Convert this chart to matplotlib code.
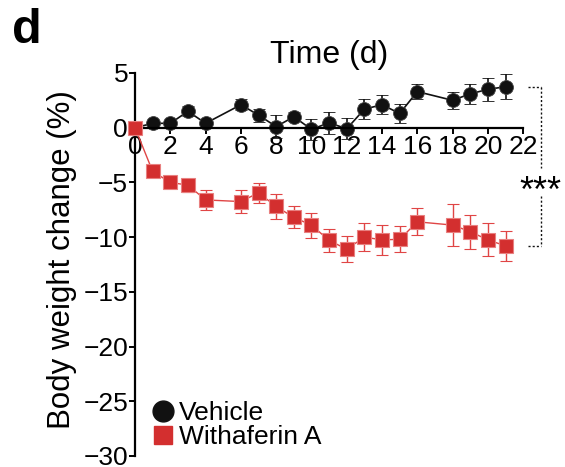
import matplotlib

matplotlib.use("Agg")
import matplotlib.pyplot as plt
from matplotlib.lines import Line2D

plt.rcParams["font.family"] = ["Liberation Sans", "DejaVu Sans"]
plt.rcParams["font.size"] = 19
plt.rcParams["axes.unicode_minus"] = True

# body weight change (%) per day, mean +/- SEM
vehicle_days = [0, 1, 2, 3, 4, 6, 7, 8, 9, 10, 11, 12, 13, 14, 15, 16, 18, 19, 20, 21]
vehicle_mean = [0.0, 0.4, 0.4, 1.5, 0.4, 2.1, 1.15, 0.1, 1.0, -0.15, 0.45, -0.1,
                1.7, 2.1, 1.3, 3.3, 2.5, 3.1, 3.5, 3.75]
vehicle_sem = [0.0, 0.3, 0.3, 0.45, 0.35, 0.5, 0.6, 1.05, 0.4, 0.95, 1.0, 0.95,
               0.9, 0.85, 0.85, 0.7, 0.8, 0.9, 1.05, 1.15]

wa_days = [0, 1, 2, 3, 4, 6, 7, 8, 9, 10, 11, 12, 13, 14, 15, 16, 18, 19, 20, 21]
wa_mean = [0.0, -4.0, -5.0, -5.25, -6.6, -6.75, -5.95, -7.2, -8.2, -8.9, -10.3, -11.1,
           -10.0, -10.25, -10.2, -8.6, -8.9, -9.5, -10.25, -10.8]
wa_sem = [0.0, 0.2, 0.3, 0.6, 0.95, 1.05, 0.9, 1.15, 1.0, 1.15, 1.05, 1.2,
          1.25, 1.35, 1.2, 1.25, 1.9, 1.55, 1.5, 1.4]

x_ticks = list(range(0, 23, 2))
y_ticks = [5, 0, -5, -10, -15, -20, -25, -30]

RED = "#D32F2F"
RED_EDGE = "#E88080"
INK = "#111111"

fig = plt.figure(figsize=(5.65, 4.67), dpi=100)
ax = fig.add_axes([0.239, 0.0236, 0.687, 0.8201])

ax.errorbar(wa_days, wa_mean, yerr=wa_sem, color="#E04545", lw=1.0,
            marker="s", ms=9.5, mfc=RED, mec=RED_EDGE, mew=0.8,
            elinewidth=1.0, capsize=4, capthick=1.0, zorder=3, clip_on=False)
ax.errorbar(vehicle_days, vehicle_mean, yerr=vehicle_sem, color=INK, lw=1.2,
            marker="o", ms=10, mfc=INK, mec="#444444", mew=0.6,
            elinewidth=1.2, capsize=4, capthick=1.2, zorder=2, clip_on=False)

ax.set_xlim(0, 22)
ax.set_ylim(-30, 5)
ax.set_xticks(x_ticks)
ax.set_yticks(y_ticks)
ax.spines["bottom"].set_position(("data", 0))
for s in ("top", "right"):
    ax.spines[s].set_visible(False)
for s in ("left", "bottom"):
    ax.spines[s].set_linewidth(1.6)
ax.tick_params(axis="both", length=4, width=1.4, pad=1, labelsize=19)
ax.set_ylabel("Body weight change (%)", fontsize=22.5)
ax.yaxis.set_label_coords(-0.149, 0.513)
ax.set_facecolor("none")

fig.text(0.583, 0.882, "Time (d)", ha="center", va="center", fontsize=23)
fig.text(0.022, 0.935, "d", ha="left", va="center", fontsize=35, fontweight="bold")

# significance bracket between the day-21 means
bx, bx0 = 23.0, 22.3
top, bot = vehicle_mean[-1], wa_mean[-1]
dot = dict(color=INK, lw=1.0, ls=(0, (1.5, 1.5)), clip_on=False)
ax.plot([bx0, bx], [top, top], **dot)
ax.plot([bx, bx], [top, -3.7], **dot)
ax.plot([bx, bx], [-6.2, bot], **dot)
ax.plot([bx0, bx], [bot, bot], **dot)
ax.text(bx, -6.8, "***", ha="center", va="baseline", fontsize=26, clip_on=False)

handles = [
    Line2D([], [], ls="none", marker="o", ms=15, mfc=INK, mec=INK),
    Line2D([], [], ls="none", marker="s", ms=13, mfc=RED, mec=RED),
]
ax.legend(handles, ["Vehicle", "Withaferin A"], loc="lower left",
          bbox_to_anchor=(0.008, -0.016), frameon=False, fontsize=19,
          handlelength=0.9, handletextpad=0.15, labelspacing=0.0, borderpad=0)

fig.savefig("out.png", dpi=100)
